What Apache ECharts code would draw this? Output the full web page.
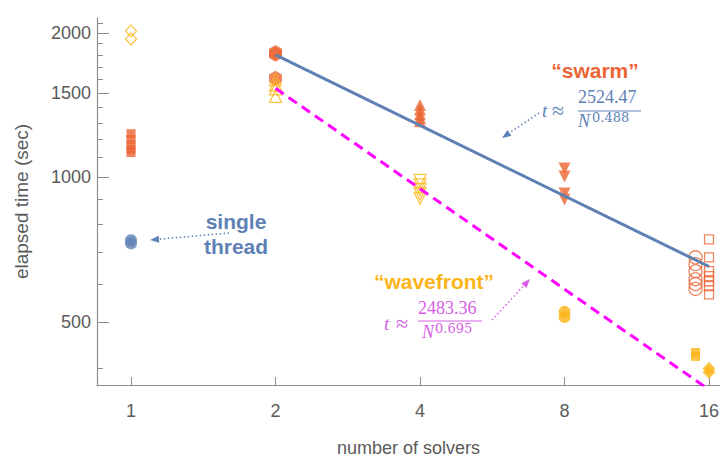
<!DOCTYPE html>
<html>
<head>
<meta charset="utf-8">
<script src="https://cdn.jsdelivr.net/npm/echarts@6/dist/echarts.min.js"></script>
<style>
  html, body { margin: 0; padding: 0; background: #fff; }
  #chart { width: 720px; height: 459px; }
</style>
</head>
<body>
<div id="chart"></div>
<script>
// Tick values (raw units)
const xTicks = [1, 2, 4, 8, 16];
const yMajorTicks = [500, 1000, 1500, 2000];
const yMinorTicks = [400, 600, 700, 800, 900, 1100, 1200, 1300, 1400, 1600, 1700, 1800, 1900, 2100];

// Elapsed times (sec) per run, grouped by number of solvers
const singleThread1 = [740, 729];

const swarm1 = [1234, 1200, 1170, 1145, 1127];
const swarm2 = [1822, 1805, 1610];
const swarm4 = [1415, 1385, 1355, 1330, 1310];
const swarm8 = [1044, 1005, 926, 900];
const swarm15 = [682, 660, 638, 614, 600, 586];
const swarm16 = [743, 682, 638, 623, 608, 594, 571];

const wavefront1 = [2020, 1944];
const wavefront2 = [1600, 1560, 1530, 1475];
const wavefront4 = [986, 965, 945, 925, 905];
const wavefront8 = [525, 512];
const wavefront15 = [432, 424];
const wavefront16 = [400, 393];

// Power-law fits t ≈ a / N^b
const swarmFit = [2524.47, 0.488];
const wavefrontFit = [2483.36, 0.695];
const fitRangeN = [2, 16];

const BLUE = '#5E81B5';
const ORANGE = '#EC6535';
const GOLD = '#FBB417';
const MAGENTA = '#FF00FF';
const MAGENTA_TEXT = '#D65EE6';
const AXIS = '#8c8c8c';
const LABEL = '#5a5a5a';

// log-log coordinates: x = log2(N), y = log10(t)
const pts = (n, arr) => arr.map(t => [Math.log2(n), Math.log10(t)]);
const fitPts = ([a, b]) => fitRangeN.map(n => [Math.log2(n), Math.log10(a / Math.pow(n, b))]);

const HEX = 'path://M0,-1L0.866,-0.5L0.866,0.5L0,1L-0.866,0.5L-0.866,-0.5Z';

function scatter(data, symbol, size, color, open, rotate) {
  return {
    type: 'scatter',
    data: data,
    symbol: symbol,
    symbolSize: size,
    symbolRotate: rotate || 0,
    silent: true,
    z: 2,
    itemStyle: open
      ? { color: 'rgba(255,255,255,0)', borderColor: color, borderWidth: 1.3 }
      : { color: color, borderWidth: 0 }
  };
}

// dotted pointer with a solid arrowhead at (x2, y2)
function arrow(x1, y1, x2, y2, color) {
  const ang = Math.atan2(y2 - y1, x2 - x1);
  const L = 9, W = 3.5;
  const bx = x2 - L * Math.cos(ang), by = y2 - L * Math.sin(ang);
  const px = -Math.sin(ang) * W, py = Math.cos(ang) * W;
  return [
    { type: 'line', silent: true, z: 10,
      shape: { x1: x1, y1: y1, x2: bx, y2: by },
      style: { stroke: color, lineWidth: 1.6, lineDash: [1.4, 2.6] } },
    { type: 'polygon', silent: true, z: 10,
      shape: { points: [[x2, y2], [bx + px, by + py], [bx - px, by - py]] },
      style: { fill: color } }
  ];
}

function txt(x, y, text, font, fill, align) {
  return { type: 'text', silent: true, z: 10,
    style: { x: x, y: y, text: text, font: font, fill: fill, align: align || 'left', verticalAlign: 'middle' } };
}
function hline(x1, x2, y, color) {
  return { type: 'line', silent: true, z: 10, shape: { x1: x1, y1: y, x2: x2, y2: y }, style: { stroke: color, lineWidth: 1 } };
}

const SANS = '"Liberation Sans", Arial, sans-serif';
const SERIF = '"Liberation Serif", "Times New Roman", serif';
const SUP = '"DejaVu Serif", serif';

const chart = echarts.init(document.getElementById('chart'), null, { renderer: 'svg' });

const yBase = {
  type: 'value',
  min: 2.5678,
  max: 3.3322,
  splitLine: { show: false }
};

chart.setOption({
  animation: false,
  backgroundColor: '#fff',
  grid: { left: 97, right: 0, top: 18, bottom: 74, containLabel: false, outerBoundsMode: 'none' },
  xAxis: {
    type: 'value',
    min: -0.2353,
    max: 4.076,
    name: 'number of solvers',
    nameLocation: 'middle',
    nameGap: 54,
    nameTextStyle: { fontFamily: SANS, fontSize: 18, color: LABEL },
    axisLine: { onZero: false, lineStyle: { color: AXIS, width: 1.2 } },
    axisTick: { inside: true, length: 8, lineStyle: { color: AXIS }, customValues: xTicks.map(Math.log2) },
    axisLabel: { customValues: xTicks.map(Math.log2), margin: 17, fontFamily: SANS, fontSize: 18, color: LABEL,
      formatter: v => String(Math.round(Math.pow(2, v))) },
    splitLine: { show: false }
  },
  yAxis: [
    Object.assign({}, yBase, {
      name: 'elapsed time (sec)',
      nameLocation: 'middle',
      nameGap: 66,
      nameTextStyle: { fontFamily: SANS, fontSize: 19, color: LABEL },
      axisLine: { show: true, onZero: false, lineStyle: { color: AXIS, width: 1.2 } },
      axisTick: { show: true, inside: true, length: 12, lineStyle: { color: AXIS }, customValues: yMajorTicks.map(Math.log10) },
      axisLabel: { customValues: yMajorTicks.map(Math.log10), margin: 6, fontFamily: SANS, fontSize: 18, color: LABEL,
        formatter: v => String(Math.round(Math.pow(10, v))) }
    }),
    Object.assign({}, yBase, {
      position: 'left',
      offset: 0,
      axisLine: { show: false, onZero: false },
      axisTick: { show: true, inside: true, length: 6, lineStyle: { color: AXIS }, customValues: yMinorTicks.map(Math.log10) },
      axisLabel: { show: false }
    })
  ],
  series: [
    scatter(pts(1, singleThread1), 'circle', 12, BLUE, false),

    scatter(pts(1, swarm1), 'rect', 9, ORANGE, false),
    scatter(pts(2, swarm2), HEX, [13, 15], ORANGE, false),
    scatter(pts(4, swarm4), 'triangle', 12, ORANGE, false),
    scatter(pts(8, swarm8), 'triangle', 12, ORANGE, false, 180),
    scatter(pts(15, swarm15), 'circle', 13, ORANGE, true),
    scatter(pts(16, swarm16), 'rect', 9, ORANGE, true),

    scatter(pts(1, wavefront1), 'diamond', [11, 12], GOLD, true),
    scatter(pts(2, wavefront2), 'triangle', 12, GOLD, true),
    scatter(pts(4, wavefront4), 'triangle', 12, GOLD, true, 180),
    scatter(pts(8, wavefront8), 'circle', 12, GOLD, false),
    scatter(pts(15, wavefront15), 'rect', 9, GOLD, false),
    scatter(pts(16, wavefront16), 'diamond', 13, GOLD, false),

    { type: 'line', data: fitPts(swarmFit), showSymbol: false, silent: true, z: 5,
      lineStyle: { color: BLUE, width: 3 } },
    { type: 'line', data: fitPts(wavefrontFit), showSymbol: false, silent: true, z: 5,
      lineStyle: { color: MAGENTA, width: 3, type: [10, 6] } }
  ],
  graphic: [
    txt(236, 221, 'single', 'bold 21px ' + SANS, BLUE, 'center'),
    txt(236, 246, 'thread', 'bold 21px ' + SANS, BLUE, 'center'),
    ...arrow(229, 233, 150, 240, BLUE),

    txt(595, 70, '\u201Cswarm\u201D', 'bold 21px ' + SANS, ORANGE, 'center'),
    txt(542, 110, 't', 'italic 19px ' + SERIF, BLUE),
    txt(552, 110, '\u2248', '22px ' + SERIF, BLUE),
    txt(578, 97, '2524.47', '18px ' + SERIF, BLUE),
    hline(578, 641, 111, BLUE),
    txt(578, 121, 'N', 'italic 18px ' + SERIF, BLUE),
    txt(592, 117, '0.488', '13px ' + SUP, BLUE),
    ...arrow(539, 113, 502, 138, BLUE),

    txt(434, 281, '\u201Cwavefront\u201D', 'bold 21px ' + SANS, GOLD, 'center'),
    txt(384, 323, 't', 'italic 19px ' + SERIF, MAGENTA_TEXT),
    txt(396, 323, '\u2248', '22px ' + SERIF, MAGENTA_TEXT),
    txt(418, 308, '2483.36', '18px ' + SERIF, MAGENTA_TEXT),
    hline(418, 482, 321, MAGENTA_TEXT),
    txt(422, 332, 'N', 'italic 18px ' + SERIF, MAGENTA_TEXT),
    txt(435, 328, '0.695', '13px ' + SUP, MAGENTA_TEXT),
    ...arrow(492, 320, 530, 279, MAGENTA_TEXT)
  ]
});
</script>
</body>
</html>
